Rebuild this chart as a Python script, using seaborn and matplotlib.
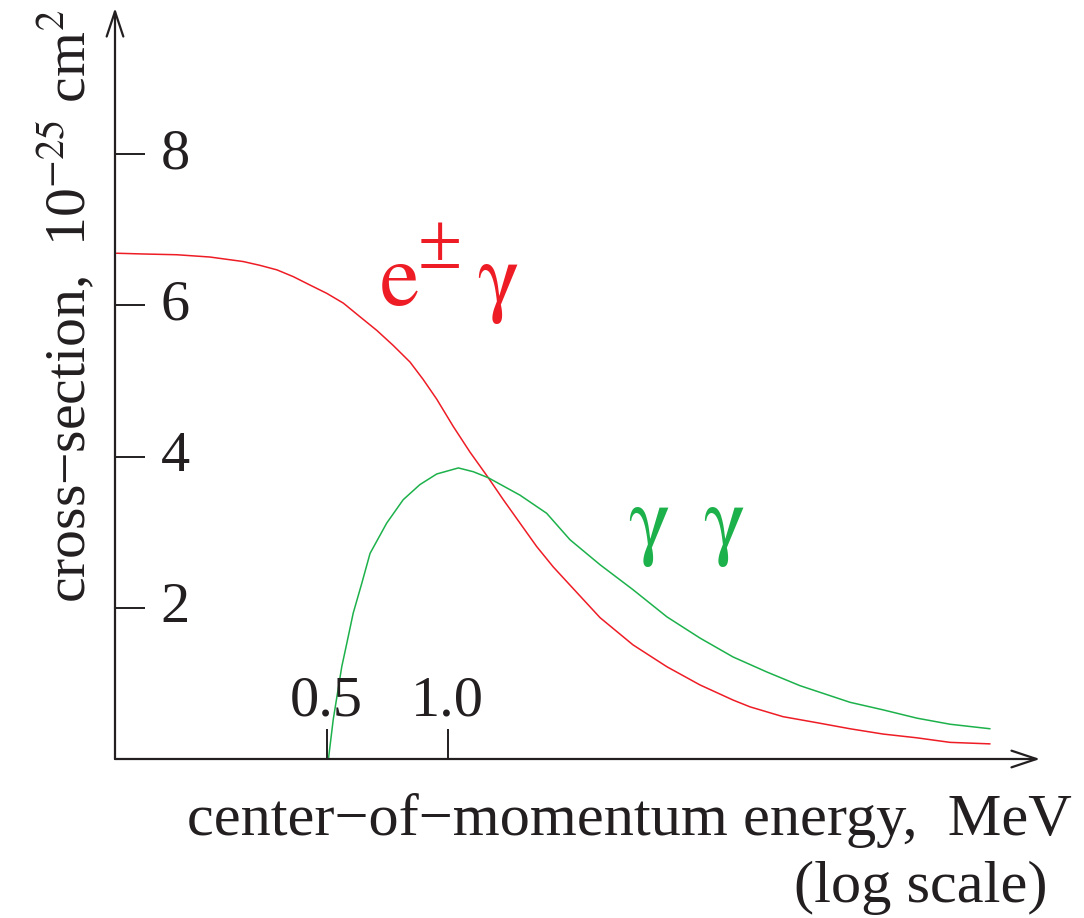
import numpy as np
import pandas as pd
import matplotlib
matplotlib.use("Agg")
import matplotlib.pyplot as plt
import matplotlib.transforms as mtransforms
from matplotlib.ticker import NullLocator
import seaborn as sns

# ---- data ----
compton_energy = [0.150, 0.175, 0.212, 0.256, 0.310, 0.341, 0.376, 0.413, 0.454,
                  0.500, 0.550, 0.605, 0.666, 0.732, 0.806, 0.869, 0.939, 1.032,
                  1.136, 1.262, 1.375, 1.513, 1.665, 1.831, 2.015, 2.393, 2.890,
                  3.511, 4.242, 5.126, 5.650, 6.826, 8.294, 10.02, 12.11, 14.71,
                  17.77, 22.35]
compton_sigma = [6.69, 6.68, 6.67, 6.64, 6.58, 6.53, 6.47, 6.38, 6.27,
                 6.16, 6.03, 5.85, 5.67, 5.47, 5.25, 5.02, 4.76, 4.40,
                 4.06, 3.72, 3.43, 3.12, 2.81, 2.54, 2.30, 1.87, 1.51,
                 1.22, 0.98, 0.78, 0.69, 0.56, 0.48, 0.40, 0.33, 0.28,
                 0.22, 0.20]

pair_energy = [0.505, 0.519, 0.545, 0.561, 0.582, 0.611, 0.641, 0.705, 0.775,
               0.853, 0.939, 1.063, 1.158, 1.262, 1.513, 1.763, 2.015, 2.393,
               2.890, 3.511, 4.242, 5.126, 6.229, 7.523, 10.02, 12.11, 14.71,
               17.77, 22.35]
pair_sigma = [0.0, 0.52, 1.22, 1.53, 1.93, 2.32, 2.72, 3.12, 3.43,
              3.63, 3.77, 3.85, 3.80, 3.72, 3.49, 3.25, 2.90, 2.57,
              2.24, 1.88, 1.60, 1.35, 1.15, 0.97, 0.75, 0.65, 0.54,
              0.46, 0.40]

y_ticks = [2, 4, 6, 8]
x_ticks = [0.5, 1.0]
x_tick_labels = ["0.5", "1.0"]

RED = "#ee1c25"
GREEN = "#1db14b"
INK = "#231f20"

df = pd.concat([
    pd.DataFrame({"energy": compton_energy, "sigma": compton_sigma, "process": "compton"}),
    pd.DataFrame({"energy": pair_energy, "sigma": pair_sigma, "process": "pair"}),
], ignore_index=True)

sns.set_theme(style="white")
plt.rcParams["font.family"] = ["Liberation Serif", "DejaVu Serif"]
plt.rcParams["mathtext.fontset"] = "stix"

fig = plt.figure(figsize=(10.84, 9.18), dpi=100)
ax = fig.add_axes([115 / 1084, 1 - 759 / 918, (1040 - 115) / 1084, (759 - 8) / 918])

sns.lineplot(data=df, x="energy", y="sigma", hue="process",
             palette={"compton": RED, "pair": GREEN}, estimator=None,
             sort=False, legend=False, linewidth=1.1, ax=ax)

ax.set_xscale("log", base=2)
x_left = 2 ** ((115 - 447.7) / 121)
x_right = 2 ** ((1040 - 447.7) / 121)
ax.set_xlim(x_left, x_right)
ax.set_ylim(0, (759 - 8) / 75.6)
ax.set_xlabel("")
ax.set_ylabel("")
for s in ax.spines.values():
    s.set_visible(False)
ax.patch.set_alpha(0)

ax.xaxis.set_minor_locator(NullLocator())
ax.yaxis.set_minor_locator(NullLocator())
ax.set_xticks(x_ticks)
ax.set_yticks(y_ticks)
ax.set_xticklabels([])
ax.set_yticklabels([])
ax.tick_params(axis="both", which="major", direction="in", length=21.6,
               width=1.4, color=INK, bottom=True, left=True)

# axis arrows
arrow_kw = dict(arrowstyle="->,head_length=0.9,head_width=0.3", lw=1.6,
                color=INK, shrinkA=0, shrinkB=0, mutation_scale=20)
ax.annotate("", xy=(1, 0), xytext=(0, 0), xycoords="axes fraction",
            textcoords="axes fraction", arrowprops=arrow_kw, annotation_clip=False)
ax.annotate("", xy=(0, 1), xytext=(0, 0), xycoords="axes fraction",
            textcoords="axes fraction", arrowprops=arrow_kw, annotation_clip=False)

# tick labels
ytrans = mtransforms.blended_transform_factory(ax.transAxes, ax.transData)
for v in y_ticks:
    ax.text((175 - 115) / 925, v, str(v), transform=ytrans, ha="center",
            va="center", fontsize=42, color=INK)
xtrans = mtransforms.blended_transform_factory(ax.transData, ax.transAxes)
for v, lab in zip(x_ticks, x_tick_labels):
    ax.text(v, (759 - 715) / 751, lab, transform=xtrans, ha="center",
            va="baseline", fontsize=42, color=INK)

# axis titles
fig.text(1072 / 1084, 1 - 835 / 918, "center\u2212of\u2212momentum energy,  MeV",
         ha="right", va="baseline", fontsize=43.5, color=INK)
fig.text(1047 / 1084, 1 - 902 / 918, "(log scale)",
         ha="right", va="baseline", fontsize=43.5, color=INK)
fig.text(85 / 1084, 1 - 306 / 918,
         "cross\u2212section,  10$^{\u221225}$ cm$^{2}$",
         rotation=90, rotation_mode="anchor", ha="center", va="baseline",
         fontsize=41.5, color=INK)

# curve labels
LBL = ["STIXGeneral", "Liberation Serif", "DejaVu Serif"]
fig.text(380 / 1084, 1 - 305 / 918, "e", ha="left", va="baseline",
         fontsize=64, color=RED, family=LBL)
fig.text(418 / 1084, 1 - 268 / 918, "\u00b1", ha="left", va="baseline",
         fontsize=58, color=RED, family=["Liberation Serif", "DejaVu Serif"])
fig.text(477 / 1084, 1 - 305 / 918, "\u03b3", ha="left", va="baseline",
         fontsize=64, color=RED, family=LBL)
fig.text(628 / 1084, 1 - 548 / 918, "\u03b3", ha="left", va="baseline",
         fontsize=64, color=GREEN, family=LBL)
fig.text(703 / 1084, 1 - 548 / 918, "\u03b3", ha="left", va="baseline",
         fontsize=64, color=GREEN, family=LBL)

fig.savefig("out.png", dpi=100)
